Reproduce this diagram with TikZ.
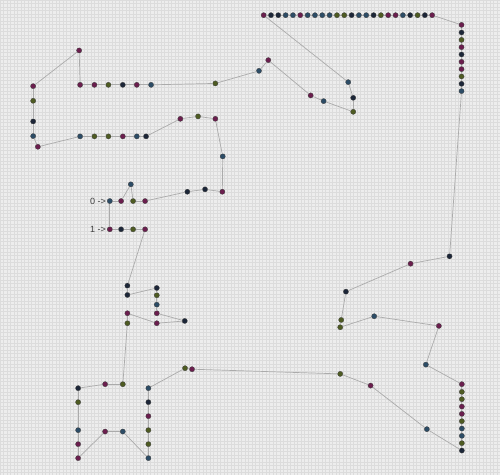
\documentclass[tikz,border=0pt]{standalone}
\usepackage{fontspec}
\setmainfont{Liberation Sans}
\usepackage{tikz}
\usetikzlibrary{positioning}
\definecolor{bgcolor}{HTML}{EDEDED}
\definecolor{gridcolor}{HTML}{DCDCDC}
\definecolor{linkcolor}{HTML}{ABABAB}
\definecolor{dotm}{HTML}{6B1E4E}
\definecolor{dotg}{HTML}{4E5B22}
\definecolor{dotd}{HTML}{1C2638}
\definecolor{dotb}{HTML}{2C4C66}

\begin{document}
\begin{tikzpicture}[
  x=1pt, y=-1pt,
  dot/.style={circle, draw=black!75, line width=0.3pt, inner sep=0pt, minimum size=5.2pt},
  link/.style={draw=linkcolor, line width=0.7pt},
  tag/.style={font=\fontsize{9}{9}\selectfont, text=black!75, inner sep=0.6pt}
]
  % Background
  \fill[bgcolor] (0,0) rectangle (500,475);
  \draw[gridcolor, line width=0.4pt, step=3.5pt] (0,0) grid (500,475);
  \useasboundingbox (0,0) rectangle (500,475);

  % Tour points
  \foreach \x/\y/\c [count=\i] in {
    109.7/201/b, 121/201/m, 130.7/184.3/b, 133/201/g, 145/201/m,
    187.3/191.7/d, 205/189.3/d, 222.3/191.7/m, 222.7/156.3/b,
    215.3/118.7/m, 198/116.3/g, 180.3/118.7/m,
    146/136.3/d, 136.7/136.3/b, 122.7/136.3/m, 108.3/136.3/g, 94.3/136.3/g, 80/136.3/b,
    37.7/146.7/m, 33/136/b, 33/121.3/d, 33/100.7/g, 33/86/m,
    79/50.3/m, 80/84.7/m, 94.3/84.7/m, 108.3/84.7/g, 122.7/84.7/d, 136.7/84.7/m, 151/84.7/b,
    215.3/83.3/g, 259/70.7/b, 268.3/60/m, 310.7/95.3/m, 323.7/101/b, 353.3/111.7/g, 353.3/97.7/d, 348.3/82/b,
    263.7/15/m, 271/15/d, 278.3/15/d, 285.7/15/b, 293/15/b, 300.3/15/m, 307.7/15/b, 315/15/b,
    322.3/15/b, 329.7/15/b, 337/15/g, 344.3/15/g, 351.7/15/d, 359/15/b, 366.3/15/b, 373.7/15/d,
    381/15/g, 388.3/15/m, 395.7/15/m, 403/15/b, 410.3/15/d, 417.7/15/g, 425/15/d, 432.3/15/m,
    461.7/24.7/m, 461.7/32.3/d, 461.7/39.7/g, 461.7/47/m, 461.7/54.3/d,
    461.7/61.7/m, 461.7/69/m, 461.7/76.3/g, 461.7/83.7/d, 461.7/91/b,
    449.7/256.3/d, 410.7/263.7/m, 346/291.7/d, 341.3/320/g, 340.3/327.3/g, 374.3/316.3/b, 439/326/m, 426/364.7/b,
    462/384.3/m, 462/392/g, 462/399.3/g, 462/406.7/m, 462/414/m,
    462/421.3/g, 462/428.7/b, 462/436/b, 462/443.3/g, 462/450.7/d,
    427/429.3/b, 370.7/385.7/m, 340.3/374/g, 192/369.3/m, 185/368.3/g,
    148.3/388.3/b, 148.3/402.3/d, 148.3/416.3/m, 148.3/430.3/g, 148.3/444.3/g, 148.3/458.3/b,
    122.7/431.7/b, 105/431.7/m, 78/458.3/m, 78/444.3/m, 78/430.3/b, 78/402.3/g, 78/388.3/d,
    105/384.3/m, 122.7/384.3/g, 127.3/323.3/g, 127.3/313.3/m, 156.7/323.3/m, 184.7/321/d,
    156.7/313.3/m, 156.7/304.7/b, 156.7/295.3/g, 156.7/288/d, 127.3/295/d, 127.3/285.7/d,
    145/229.3/m, 133/229.3/g, 121/229.3/d, 109.7/229.3/m}
    \node[dot, fill=dot\c] (p\i) at (\x,\y) {};

  % Tour edges
  \foreach \i [remember=\i as \j (initially 124)] in {1,...,124}
    \draw[link] (p\j) -- (p\i);

  % Start markers
  \node[tag, left=0.3pt of p1] (zero) {0 ->};
  \node[tag, left=0.3pt of p124] (one) {1 ->};
\end{tikzpicture}
\end{document}
